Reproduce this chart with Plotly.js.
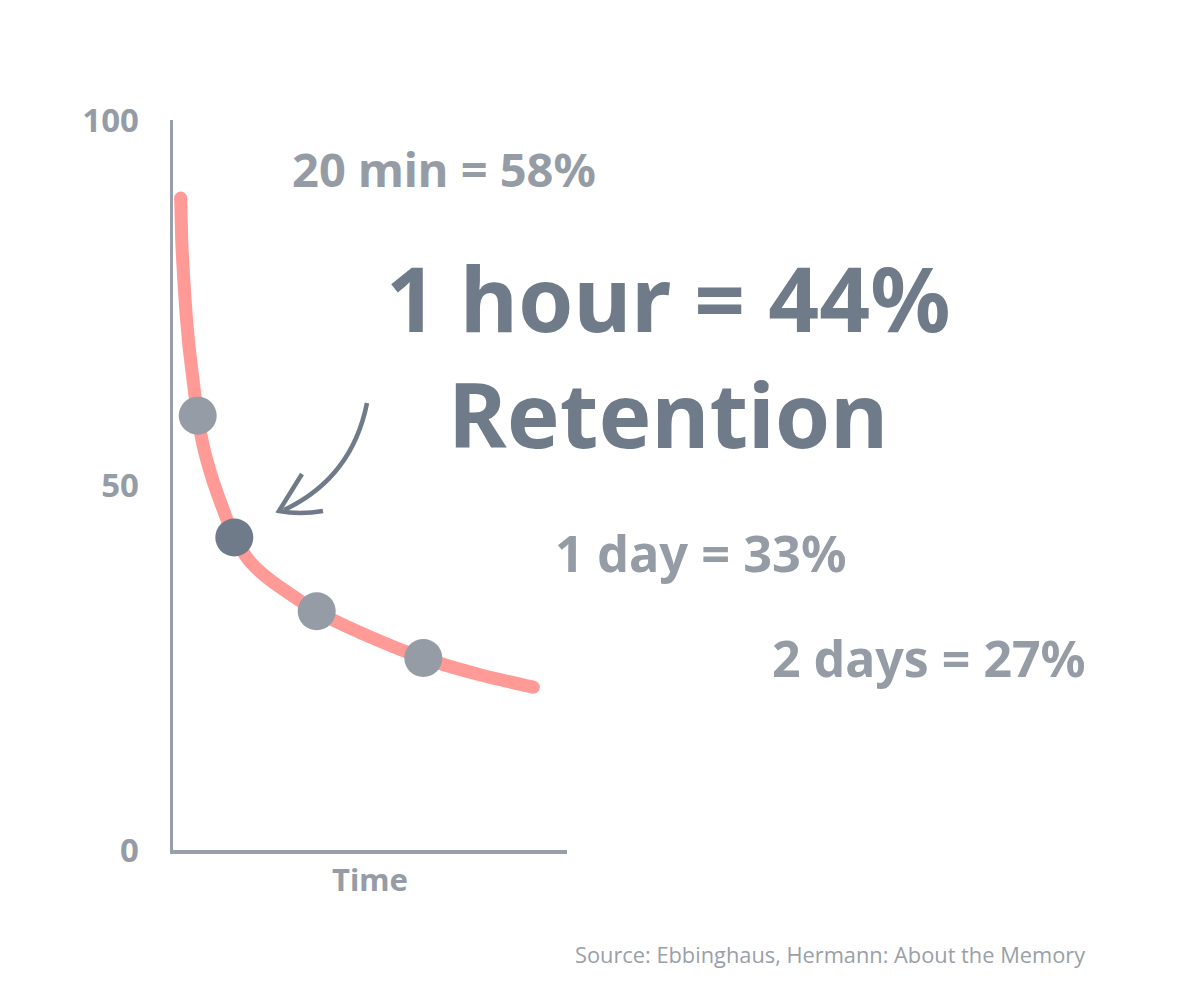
<!DOCTYPE html>
<html>
<head>
<meta charset="utf-8">
<script src="https://cdn.plot.ly/plotly-3.0.1.min.js"></script>
<style>html,body{margin:0;padding:0;background:#fff;}#chart{width:1200px;height:1000px;}</style>
</head>
<body>
<div id="chart"></div>
<script>
// ---- Data ----
const curveTime      = [1.95, 2.28, 2.74, 3.30, 4.06, 5.08, 6.27, 7.74, 9.90, 12.56, 15.56, 19.54, 24.62, 36.47, 50.0, 63.53, 77.92, 91.45];
const curveRetention = [89.3, 82.6, 78.1, 73.6, 69.0, 64.4, 59.5, 55.2, 51.0, 46.9, 42.8, 39.5, 37.0, 32.7, 29.2, 26.3, 24.0, 22.3];
const markerTime      = [6.27, 15.56, 36.47, 63.53];
const markerRetention = [59.5, 42.8, 32.7, 26.3];
const markerLabels    = ["20 min = 58%", "1 hour = 44%", "1 day = 33%", "2 days = 27%"];
const highlightLine2  = "Retention";
const yTickValues     = [0, 50, 100];
const yTickLabels     = ["0", "50", "100"];
const xAxisTitle      = "Time";
const sourceText      = "Source: Ebbinghaus, Hermann: About the Memory";

// ---- Styling ----
const LIGHT = "#959ca5";
const DARK  = "#6f7b88";
const PINK  = "#ff9a96";
const FONT  = "Noto Sans, Open Sans, sans-serif";

const L = 173, R = 567, T = 120, B = 850;       // plot area in pixels
const W = 1200, H = 1000;
const px = x => (x - L) / (R - L);              // pixel -> paper (layout placement)
const py = y => (B - y) / (B - T);
const dx = x => (x - L) / (R - L) * 100;        // pixel -> data (decorative arrow only)
const dy = y => (B - y) / (B - T) * 100;

const last = curveTime.length - 1;
const traces = [
  {
    x: curveTime, y: curveRetention, type: "scatter", mode: "lines",
    line: {color: PINK, width: 13, shape: "spline", smoothing: 0.6},
    hoverinfo: "skip", cliponaxis: false
  },
  { // round caps at the two ends of the curve
    x: [curveTime[0], curveTime[last]], y: [curveRetention[0], curveRetention[last]],
    type: "scatter", mode: "markers",
    marker: {size: 13, color: PINK, line: {width: 0}},
    hoverinfo: "skip", cliponaxis: false
  },
  {
    x: markerTime, y: markerRetention, type: "scatter", mode: "markers",
    marker: {size: 38, color: [LIGHT, DARK, LIGHT, LIGHT], line: {width: 0}},
    cliponaxis: false
  }
];

function ann(text, cx, cy, size, color) {
  return {
    text: text, xref: "paper", yref: "paper", x: px(cx), y: py(cy),
    xanchor: "center", yanchor: "middle", showarrow: false,
    font: {family: FONT, size: size, color: color, weight: 700}
  };
}

const shaftPath = "M " + dx(367) + "," + dy(403) +
                  " Q " + dx(352) + "," + dy(478) + " " + dx(284) + "," + dy(510);
const headPath  = "M " + dx(302) + "," + dy(474) +
                  " L " + dx(279) + "," + dy(511) +
                  " Q " + dx(300) + "," + dy(515) + " " + dx(323) + "," + dy(511);

const layout = {
  width: W, height: H,
  paper_bgcolor: "#ffffff", plot_bgcolor: "#ffffff",
  showlegend: false,
  margin: {l: L, r: W - R, t: T, b: H - B, pad: 0},
  xaxis: {
    range: [0, 100], showgrid: false, zeroline: false,
    showline: true, linecolor: "#989fa8", linewidth: 3.5,
    showticklabels: false, ticks: "",
    title: {text: xAxisTitle, standoff: 18,
            font: {family: FONT, size: 31, color: LIGHT, weight: 700}}
  },
  yaxis: {
    range: [0, 100], showgrid: false, zeroline: false,
    showline: true, linecolor: "#989fa8", linewidth: 3.5,
    tickmode: "array", tickvals: yTickValues, ticktext: yTickLabels,
    ticks: "", ticklabelstandoff: 24,
    tickfont: {family: FONT, size: 33, color: LIGHT, weight: 700}
  },
  shapes: [
    {type: "path", xref: "x", yref: "y", path: shaftPath,
     line: {color: DARK, width: 4.5}, layer: "above"},
    {type: "path", xref: "x", yref: "y", path: headPath,
     line: {color: DARK, width: 4.5}, layer: "above"}
  ],
  annotations: [
    ann(markerLabels[0], 444, 169, 47, LIGHT),
    ann(markerLabels[1] + "<br>" + highlightLine2, 668, 355, 89, DARK),
    ann(markerLabels[2], 701, 552, 50.5, LIGHT),
    ann(markerLabels[3], 929, 658, 50, LIGHT),
    {text: sourceText, xref: "paper", yref: "paper", x: px(1087), y: py(955),
     xanchor: "right", yanchor: "middle", showarrow: false,
     font: {family: "Open Sans, sans-serif", size: 21.8, color: "#9aa0a7"}}
  ]
};

Plotly.newPlot("chart", traces, layout, {displayModeBar: false, staticPlot: true});
</script>
</body>
</html>
